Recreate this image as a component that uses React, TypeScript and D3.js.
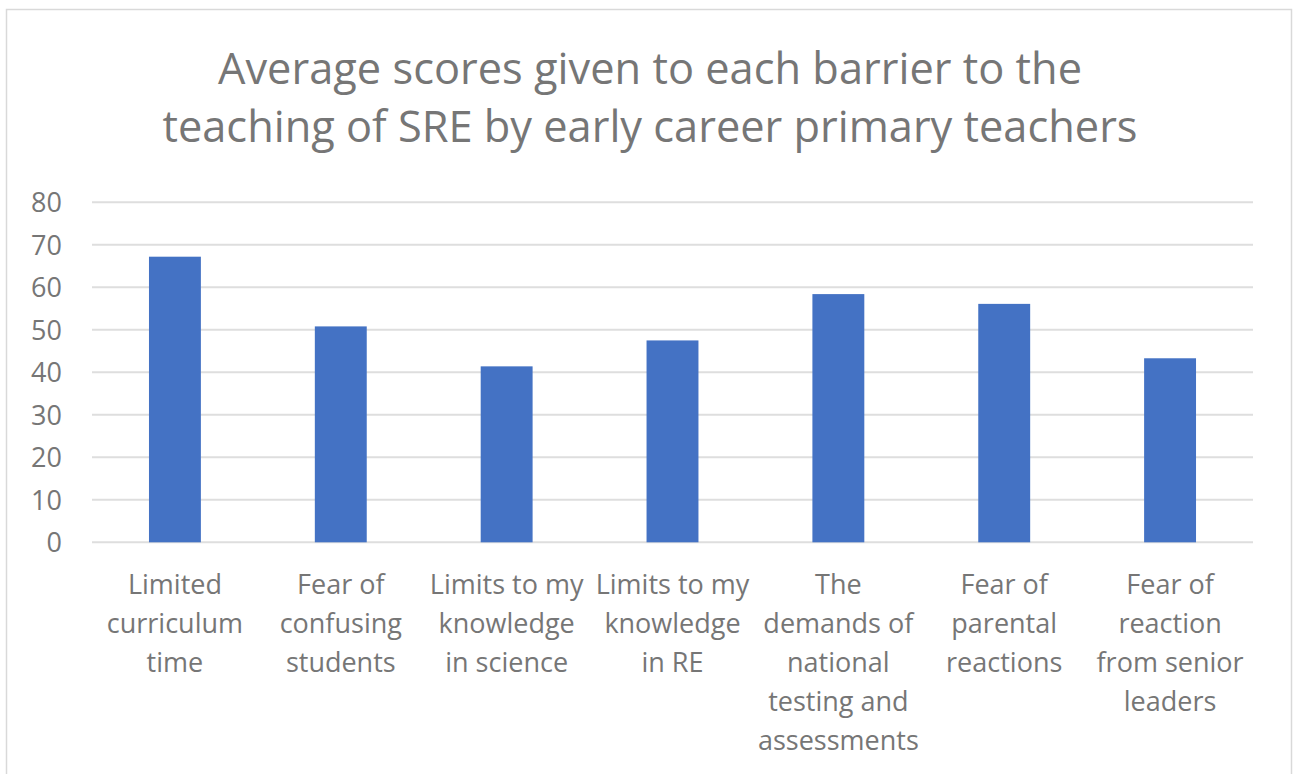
import React, { useRef, useEffect } from "react";
import * as d3 from "d3";

const categories: string[][] = [
  ["Limited", "curriculum", "time"],
  ["Fear of", "confusing", "students"],
  ["Limits to my", "knowledge", "in science"],
  ["Limits to my", "knowledge", "in RE"],
  ["The", "demands of", "national", "testing and", "assessments"],
  ["Fear of", "parental", "reactions"],
  ["Fear of", "reaction", "from senior", "leaders"],
];
const scores = [67.2, 50.8, 41.4, 47.5, 58.4, 56.1, 43.3];
const yTicks = [0, 10, 20, 30, 40, 50, 60, 70, 80];
const titleLines = [
  "Average scores given to each barrier to the",
  "teaching of SRE by early career primary teachers",
];

const W = 1293;
const H = 774;

const App: React.FC = () => {
  const ref = useRef<SVGSVGElement | null>(null);

  useEffect(() => {
    const svg = d3.select(ref.current);
    svg.selectAll("*").remove();

    const font = "'Open Sans', Lato, sans-serif";
    const textColor = "#767676";
    const plot = { left: 92, right: 1253, top: 202.3, bottom: 542.3 };

    // chart frame
    svg
      .append("rect")
      .attr("x", 6.5)
      .attr("y", 9.5)
      .attr("width", 1285)
      .attr("height", 800)
      .attr("fill", "#fff")
      .attr("stroke", "#d9d9d9")
      .attr("stroke-width", 1.5);

    // title
    const titleWidths = [864, 975];
    svg
      .append("g")
      .selectAll("text")
      .data(titleLines)
      .join("text")
      .attr("x", 650)
      .attr("y", (_, i) => 83.5 + i * 58.5)
      .attr("text-anchor", "middle")
      .attr("font-family", font)
      .attr("font-size", 44)
      .attr("fill", textColor)
      .attr("textLength", (_, i) => titleWidths[i])
      .attr("lengthAdjust", "spacingAndGlyphs")
      .text((d) => d);

    const x = d3
      .scaleBand<number>()
      .domain(d3.range(categories.length))
      .range([plot.left, plot.right])
      .paddingInner(0.687)
      .paddingOuter(0.3435);

    const y = d3.scaleLinear().domain([0, 80]).range([plot.bottom, plot.top]);

    // gridlines
    svg
      .append("g")
      .selectAll("line")
      .data(yTicks)
      .join("line")
      .attr("x1", plot.left)
      .attr("x2", plot.right)
      .attr("y1", (d) => y(d))
      .attr("y2", (d) => y(d))
      .attr("stroke", "#dedede")
      .attr("stroke-width", 2);

    // y tick labels
    svg
      .append("g")
      .selectAll("text")
      .data(yTicks)
      .join("text")
      .attr("x", 62)
      .attr("y", (d) => y(d))
      .attr("dy", "0.36em")
      .attr("text-anchor", "end")
      .attr("font-family", font)
      .attr("font-size", 27)
      .attr("fill", textColor)
      .text((d) => d);

    // bars
    svg
      .append("g")
      .selectAll("rect")
      .data(scores)
      .join("rect")
      .attr("x", (_, i) => x(i) as number)
      .attr("y", (d) => y(d))
      .attr("width", x.bandwidth())
      .attr("height", (d) => y(0) - y(d))
      .attr("fill", "#4472c4");

    // category labels
    const labels = svg
      .append("g")
      .selectAll("text")
      .data(categories)
      .join("text")
      .attr("x", (_, i) => (x(i) as number) + x.bandwidth() / 2)
      .attr("y", 593.5)
      .attr("text-anchor", "middle")
      .attr("font-family", font)
      .attr("font-size", 27)
      .attr("fill", textColor);

    labels
      .selectAll("tspan")
      .data((d) => d)
      .join("tspan")
      .attr("x", function () {
        return (this.parentNode as SVGTextElement).getAttribute("x");
      })
      .attr("dy", (_, i) => (i === 0 ? 0 : 39))
      .text((d) => d);
  }, []);

  return (
    <div style={{ position: "absolute", left: 0, top: 0 }}>
      <svg ref={ref} width={W} height={H} style={{ display: "block" }} />
    </div>
  );
};

export default App;
